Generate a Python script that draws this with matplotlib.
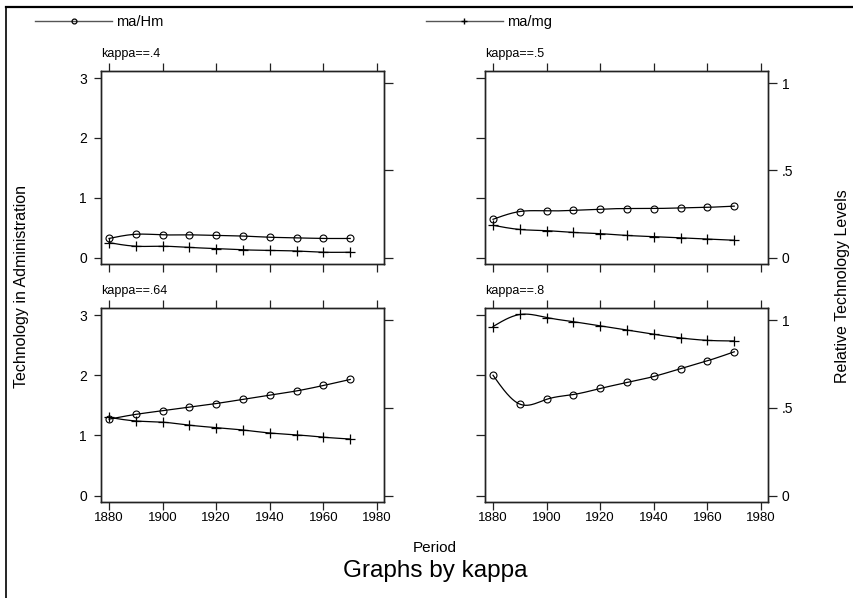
import numpy as np
import matplotlib
matplotlib.use('Agg')
import matplotlib.pyplot as plt
from matplotlib.lines import Line2D

plt.rcParams['font.family'] = ['Liberation Sans', 'DejaVu Sans']

# ---------------- data ----------------
years = [1880, 1890, 1900, 1910, 1920, 1930, 1940, 1950, 1960, 1970]
panel_titles = ['kappa==.4', 'kappa==.5', 'kappa==.64', 'kappa==.8']

ma_hm_k40 = [0.32, 0.39, 0.38, 0.38, 0.37, 0.36, 0.34, 0.33, 0.32, 0.32]
ma_mg_k40 = [0.25, 0.19, 0.19, 0.17, 0.15, 0.13, 0.12, 0.11, 0.09, 0.09]

ma_hm_k50 = [0.64, 0.77, 0.78, 0.79, 0.81, 0.82, 0.82, 0.83, 0.84, 0.86]
ma_mg_k50 = [0.54, 0.47, 0.45, 0.42, 0.40, 0.37, 0.35, 0.33, 0.31, 0.29]

ma_hm_k64 = [1.27, 1.35, 1.41, 1.47, 1.53, 1.60, 1.67, 1.74, 1.83, 1.93]
ma_mg_k64 = [1.30, 1.24, 1.22, 1.17, 1.13, 1.09, 1.04, 1.01, 0.97, 0.94]

ma_hm_k80 = [2.00, 1.52, 1.60, 1.68, 1.78, 1.88, 1.98, 2.11, 2.24, 2.39]
ma_mg_k80 = [2.81, 3.01, 2.96, 2.89, 2.82, 2.75, 2.68, 2.62, 2.58, 2.57]

ma_hm_series = [ma_hm_k40, ma_hm_k50, ma_hm_k64, ma_hm_k80]
ma_mg_series = [ma_mg_k40, ma_mg_k50, ma_mg_k64, ma_mg_k80]

left_ticks = [0, 1, 2, 3]
left_ticklabels = ['0', '1', '2', '3']
right_ticks = [0, 0.5, 1]
right_ticklabels = ['0', '.5', '1']
x_ticks = [1880, 1900, 1920, 1940, 1960, 1980]
x_ticklabels = ['1880', '1900', '1920', '1940', '1960', '1980']
series_names = ['ma/Hm', 'ma/mg']


def natural_spline(x, y, n=25):
    """Smooth connecting line (like Stata connect(s)) through the data points."""
    x = np.asarray(x, float)
    y = np.asarray(y, float)
    m = len(x)
    h = np.diff(x)
    A = np.zeros((m, m))
    b = np.zeros(m)
    A[0, 0] = 1
    A[-1, -1] = 1
    for i in range(1, m - 1):
        A[i, i - 1] = h[i - 1]
        A[i, i] = 2 * (h[i - 1] + h[i])
        A[i, i + 1] = h[i]
        b[i] = 6 * ((y[i + 1] - y[i]) / h[i] - (y[i] - y[i - 1]) / h[i - 1])
    M = np.linalg.solve(A, b)
    xs, ys = [], []
    for i in range(m - 1):
        t = np.linspace(x[i], x[i + 1], n, endpoint=(i == m - 2))
        a = x[i + 1] - t
        c = t - x[i]
        s = (M[i] * a ** 3 / (6 * h[i]) + M[i + 1] * c ** 3 / (6 * h[i])
             + (y[i] / h[i] - M[i] * h[i] / 6) * a
             + (y[i + 1] / h[i] - M[i + 1] * h[i] / 6) * c)
        xs.append(t)
        ys.append(s)
    return np.concatenate(xs), np.concatenate(ys)


W, H = 854, 598
fig = plt.figure(figsize=(W / 100, H / 100), dpi=100)
fig.patch.set_facecolor('white')


def rect(x0, y0, x1, y1):
    return [x0 / W, 1 - y1 / H, (x1 - x0) / W, (y1 - y0) / H]


boxes = [(101, 71, 384, 264), (485, 71, 768, 264),
         (101, 308, 384, 502), (485, 308, 768, 502)]

line_kw = dict(color='black', lw=0.9)
for k, (x0, y0, x1, y1) in enumerate(boxes):
    col = k % 2
    row = k // 2
    ax = fig.add_axes(rect(x0, y0, x1, y1))
    ax.set_xlim(1877.0, 1982.6)
    ax.set_ylim(-0.107, 3.118)

    xs, ys = natural_spline(years, ma_hm_series[k])
    ax.plot(xs, ys, **line_kw)
    ax.plot(years, ma_hm_series[k], linestyle='none', marker='o', ms=5,
            mfc='none', mec='black', mew=0.8)
    xs, ys = natural_spline(years, ma_mg_series[k])
    ax.plot(xs, ys, **line_kw)
    ax.plot(years, ma_mg_series[k], linestyle='none', marker='+', ms=7,
            mec='black', mew=0.9)

    ax.set_xticks(x_ticks)
    ax.set_xticklabels(x_ticklabels if row == 1 else [''] * len(x_ticks))
    ax.set_yticks(left_ticks)
    ax.set_yticklabels(left_ticklabels if col == 0 else [''] * len(left_ticks))
    ax.tick_params(axis='x', which='both', direction='out', top=True,
                   bottom=True, length=6, width=0.9, pad=1.5,
                   labelsize=9.5, color='#222222')
    ax.tick_params(axis='y', direction='out', left=True, right=False,
                   length=5 if col == 0 else 6.5, width=0.9, pad=5,
                   labelsize=10, color='#222222')

    ax2 = ax.twinx()
    ax2.set_ylim(-0.036, 1.069)
    ax2.set_yticks(right_ticks)
    ax2.set_yticklabels(right_ticklabels if col == 1 else [''] * len(right_ticks))
    ax2.tick_params(axis='y', direction='out', length=6.5, width=0.9, pad=3.5,
                    labelsize=10, color='#222222')

    for a in (ax, ax2):
        for sp in a.spines.values():
            sp.set_linewidth(1.0)
            sp.set_color('#222222')

    fig.text(x0 / W, 1 - (y0 - 17) / H, panel_titles[k], fontsize=9,
             ha='left', va='center')

# legend
h1 = Line2D([], [], color='#555555', lw=1.0, marker='o', ms=3.5,
            mfc='none', mec='black', mew=0.9)
h2 = Line2D([], [], color='#555555', lw=1.0, marker='+', ms=5,
            mec='black', mew=1.0)
fig.legend([h1, h2], series_names, loc='center left',
           bbox_to_anchor=(35 / W, 1 - 22 / H), ncol=2, frameon=False,
           fontsize=10.5, handlelength=5.3, handletextpad=0.25,
           columnspacing=18.0, borderpad=0, borderaxespad=0, numpoints=1)

# axis titles
fig.text(22 / W, 1 - 286 / H, 'Technology in Administration', rotation=90,
         ha='center', va='center', fontsize=11.5)
fig.text(843 / W, 1 - 286 / H, 'Relative Technology Levels', rotation=90,
         ha='center', va='center', fontsize=11.5)
fig.text(435 / W, 1 - 548 / H, 'Period', ha='center', va='center', fontsize=11)
fig.text(435 / W, 1 - 571 / H, 'Graphs by kappa', ha='center', va='center',
         fontsize=17.5)

# outer frame (top and left edges visible)
fig.add_artist(Line2D([6 / W, 1.0], [1 - 7 / H, 1 - 7 / H],
                      transform=fig.transFigure, color='black', lw=1.6))
fig.add_artist(Line2D([6 / W, 6 / W], [1 - 7 / H, 0.0],
                      transform=fig.transFigure, color='black', lw=1.2))

fig.savefig('out.png', dpi=100)
